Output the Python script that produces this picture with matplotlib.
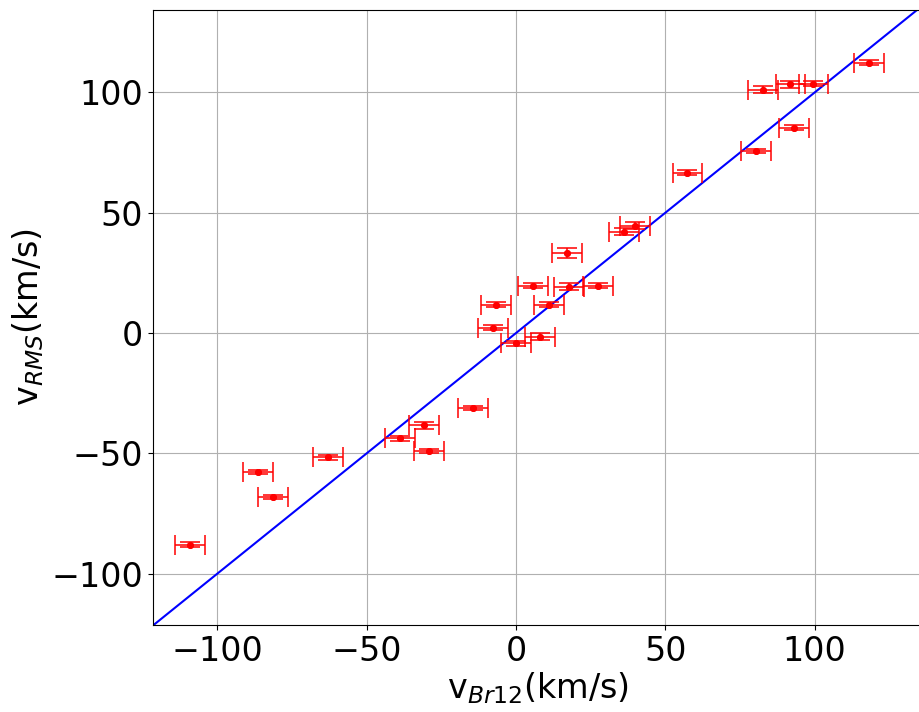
import matplotlib
matplotlib.use("Agg")
import matplotlib.pyplot as plt
import numpy as np

# data
v_br12 = [-109.2, -86.4, -81.4, -63.0, -38.8, -30.8, -29.1, -14.4, -7.6, -6.8,
          0.0, 8.0, 11.1, 5.8, 17.7, 27.4, 17.1, 36.2, 39.7, 57.4,
          80.3, 93.1, 82.8, 91.9, 99.6, 118.3]
v_rms = [-88.1, -57.8, -68.2, -51.6, -43.7, -38.3, -49.1, -31.2, 2.2, 11.8,
         -4.3, -1.5, 11.8, 19.7, 19.3, 19.7, 33.3, 42.1, 44.6, 66.7,
         75.7, 85.4, 101.2, 103.4, 103.7, 112.4]
x_err = [5.0] * len(v_br12)
y_err = [1.0, 1.0, 1.0, 1.0, 1.0, 1.5, 1.0, 1.0, 1.0, 1.0,
         1.0, 1.5, 1.0, 1.0, 1.5, 1.0, 2.0, 1.5, 1.5, 1.0,
         1.0, 1.0, 1.5, 1.5, 1.0, 1.0]
x_ticks = [-100, -50, 0, 50, 100]
y_ticks = [-100, -50, 0, 50, 100]
xlim = (-121.6, 136.3)
ylim = (-121.4, 134.3)

fig = plt.figure(figsize=(9.2, 7.12), dpi=100)
ax = fig.add_axes([0.1663, 0.1222, 0.8370, 0.8638])

ax.errorbar(v_br12, v_rms, xerr=x_err, yerr=y_err, fmt='o', color='red',
            ecolor='red', markersize=4, elinewidth=1.3, capsize=7,
            capthick=1.3, alpha=0.85, zorder=3)
ax.plot(v_br12, v_rms, 'o', color='red', markersize=4, zorder=4)

line = np.array([min(xlim[0], ylim[0]) - 10, max(xlim[1], ylim[1]) + 10])
ax.plot(line, line, color='blue', linewidth=1.5, zorder=2)

ax.set_xlim(*xlim)
ax.set_ylim(*ylim)
ax.set_xticks(x_ticks)
ax.set_yticks(y_ticks)
ax.tick_params(labelsize=24)
ax.grid(True, color='#b0b0b0', linewidth=0.8)
ax.set_axisbelow(True)
ax.set_xlabel(r'v$_{Br12}$(km/s)', fontsize=24, labelpad=2)
ax.set_ylabel(r'v$_{RMS}$(km/s)', fontsize=24, labelpad=4)

fig.savefig('out.png', dpi=100)
